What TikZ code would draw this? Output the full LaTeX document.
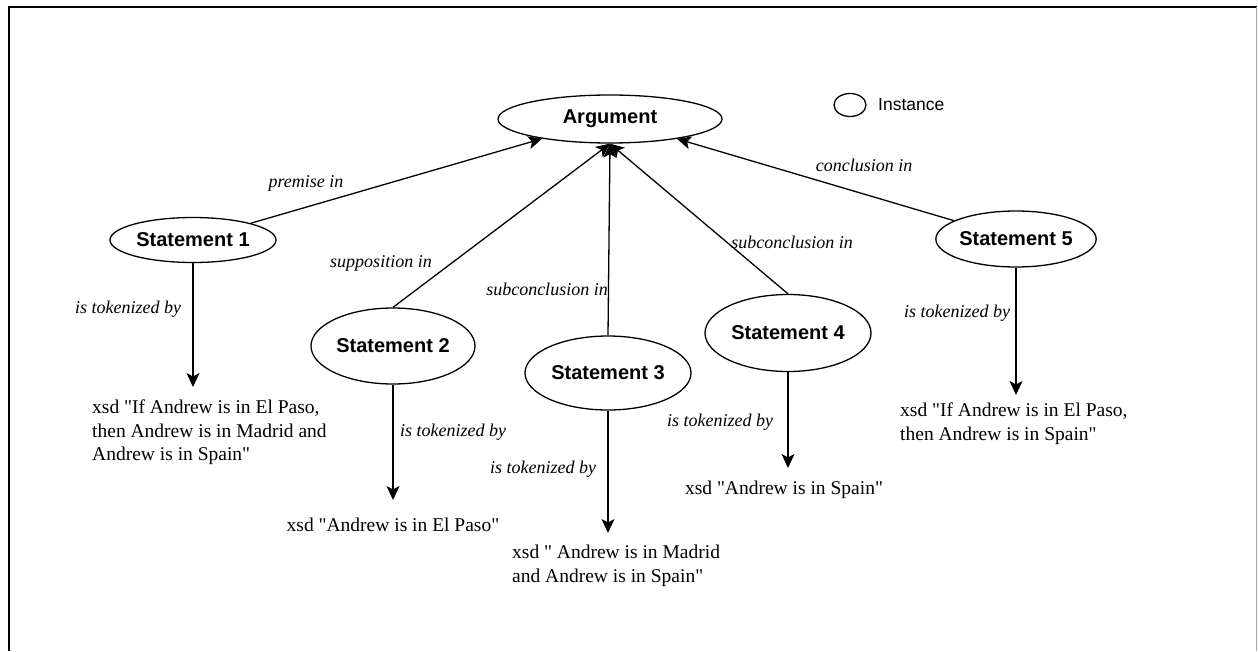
\documentclass[tikz,border=0pt]{standalone}
\usepackage{fontspec}
\setmainfont{Liberation Serif}[Ligatures=TeXOff]
\setsansfont{Liberation Sans}
\usetikzlibrary{shapes.geometric,arrows.meta}
\begin{document}
\begin{tikzpicture}[x=1pt,y=-1pt,
  inst/.style={draw, ellipse, line width=1.3pt, inner sep=0pt,
    font=\sffamily\bfseries\fontsize{20}{24}\selectfont},
  rel/.style={inner sep=0pt, font=\itshape\fontsize{18}{22}\selectfont},
  val/.style={inner sep=0pt, align=left, font=\fontsize{19.5}{23.5}\selectfont},
  link/.style={line width=1.3pt, -{Stealth[length=14pt,width=13pt,inset=3.5pt]}},
]
\useasboundingbox (0,0) rectangle (1258,651);
\fill[white] (0,0) rectangle (1258,651);

% page frame
\draw[line width=2.2pt] (8.7,651) -- (8.7,6.7) -- (1257,6.7);
\draw[gray!70, line width=1pt] (1256.8,6.7) -- (1256.8,651);

% legend
\node[draw, ellipse, line width=1.3pt, minimum width=32pt, minimum height=23pt, inner sep=0pt] (key) at (850,105) {};
\node[anchor=west, inner sep=0pt, font=\sffamily\fontsize{17.5}{21}\selectfont] (keytext) at (878,105) {Instance};

% instances
\node[inst, minimum width=224pt, minimum height=48pt] (arg) at (610,119) {Argument};
\node[inst, minimum width=166pt, minimum height=45pt] (s1) at (193,240) {Statement 1};
\node[inst, minimum width=164pt, minimum height=76pt] (s2) at (393,346) {Statement 2};
\node[inst, minimum width=166pt, minimum height=74pt] (s3) at (608,373) {Statement 3};
\node[inst, minimum width=166pt, minimum height=77pt] (s4) at (788,333) {Statement 4};
\node[inst, minimum width=156pt, minimum height=56pt] (s5) at (1016,239) {Statement 5};

% relations to the argument
\draw[link] (s1) -- (arg);
\draw[link] (s2.north) -- (arg.south);
\draw[link] (s3.north) -- (arg.south);
\draw[link] (s4.north) -- (arg.south);
\draw[link] (s5) -- (arg);

\node[rel] (r1) at (306,183) {premise in};
\node[rel] (r2) at (381,263) {supposition in};
\node[rel] (r3) at (547,289) {subconclusion in};
\node[rel] (r4) at (792,242) {subconclusion in};
\node[rel] (r5) at (864,165) {conclusion in};

% tokens
\coordinate (e1) at (193,387);
\coordinate (e2) at (393,500);
\coordinate (e3) at (608,533);
\coordinate (e4) at (788,468);
\coordinate (e5) at (1016,395);
\draw[link] (s1) -- (e1);
\draw[link] (s2) -- (e2);
\draw[link] (s3) -- (e3);
\draw[link] (s4) -- (e4);
\draw[link] (s5) -- (e5);

\node[rel] (k1) at (128,309) {is tokenized by};
\node[rel] (k2) at (453,432) {is tokenized by};
\node[rel] (k3) at (543,469) {is tokenized by};
\node[rel] (k4) at (720,422) {is tokenized by};
\node[rel] (k5) at (957,313) {is tokenized by};

\node[val, anchor=north west] (t1) at (92,400) {xsd "If Andrew is in El Paso,\\then Andrew is in Madrid and\\Andrew is in Spain"};
\node[val] (t2) at (393,525) {xsd "Andrew is in El Paso"};
\node[val, anchor=north west] (t3) at (512,545) {xsd " Andrew is in Madrid\\and Andrew is in Spain"};
\node[val] (t4) at (784,490) {xsd "Andrew is in Spain"};
\node[val, anchor=north west] (t5) at (900,403) {xsd "If Andrew is in El Paso,\\then Andrew is in Spain"};
\end{tikzpicture}
\end{document}
